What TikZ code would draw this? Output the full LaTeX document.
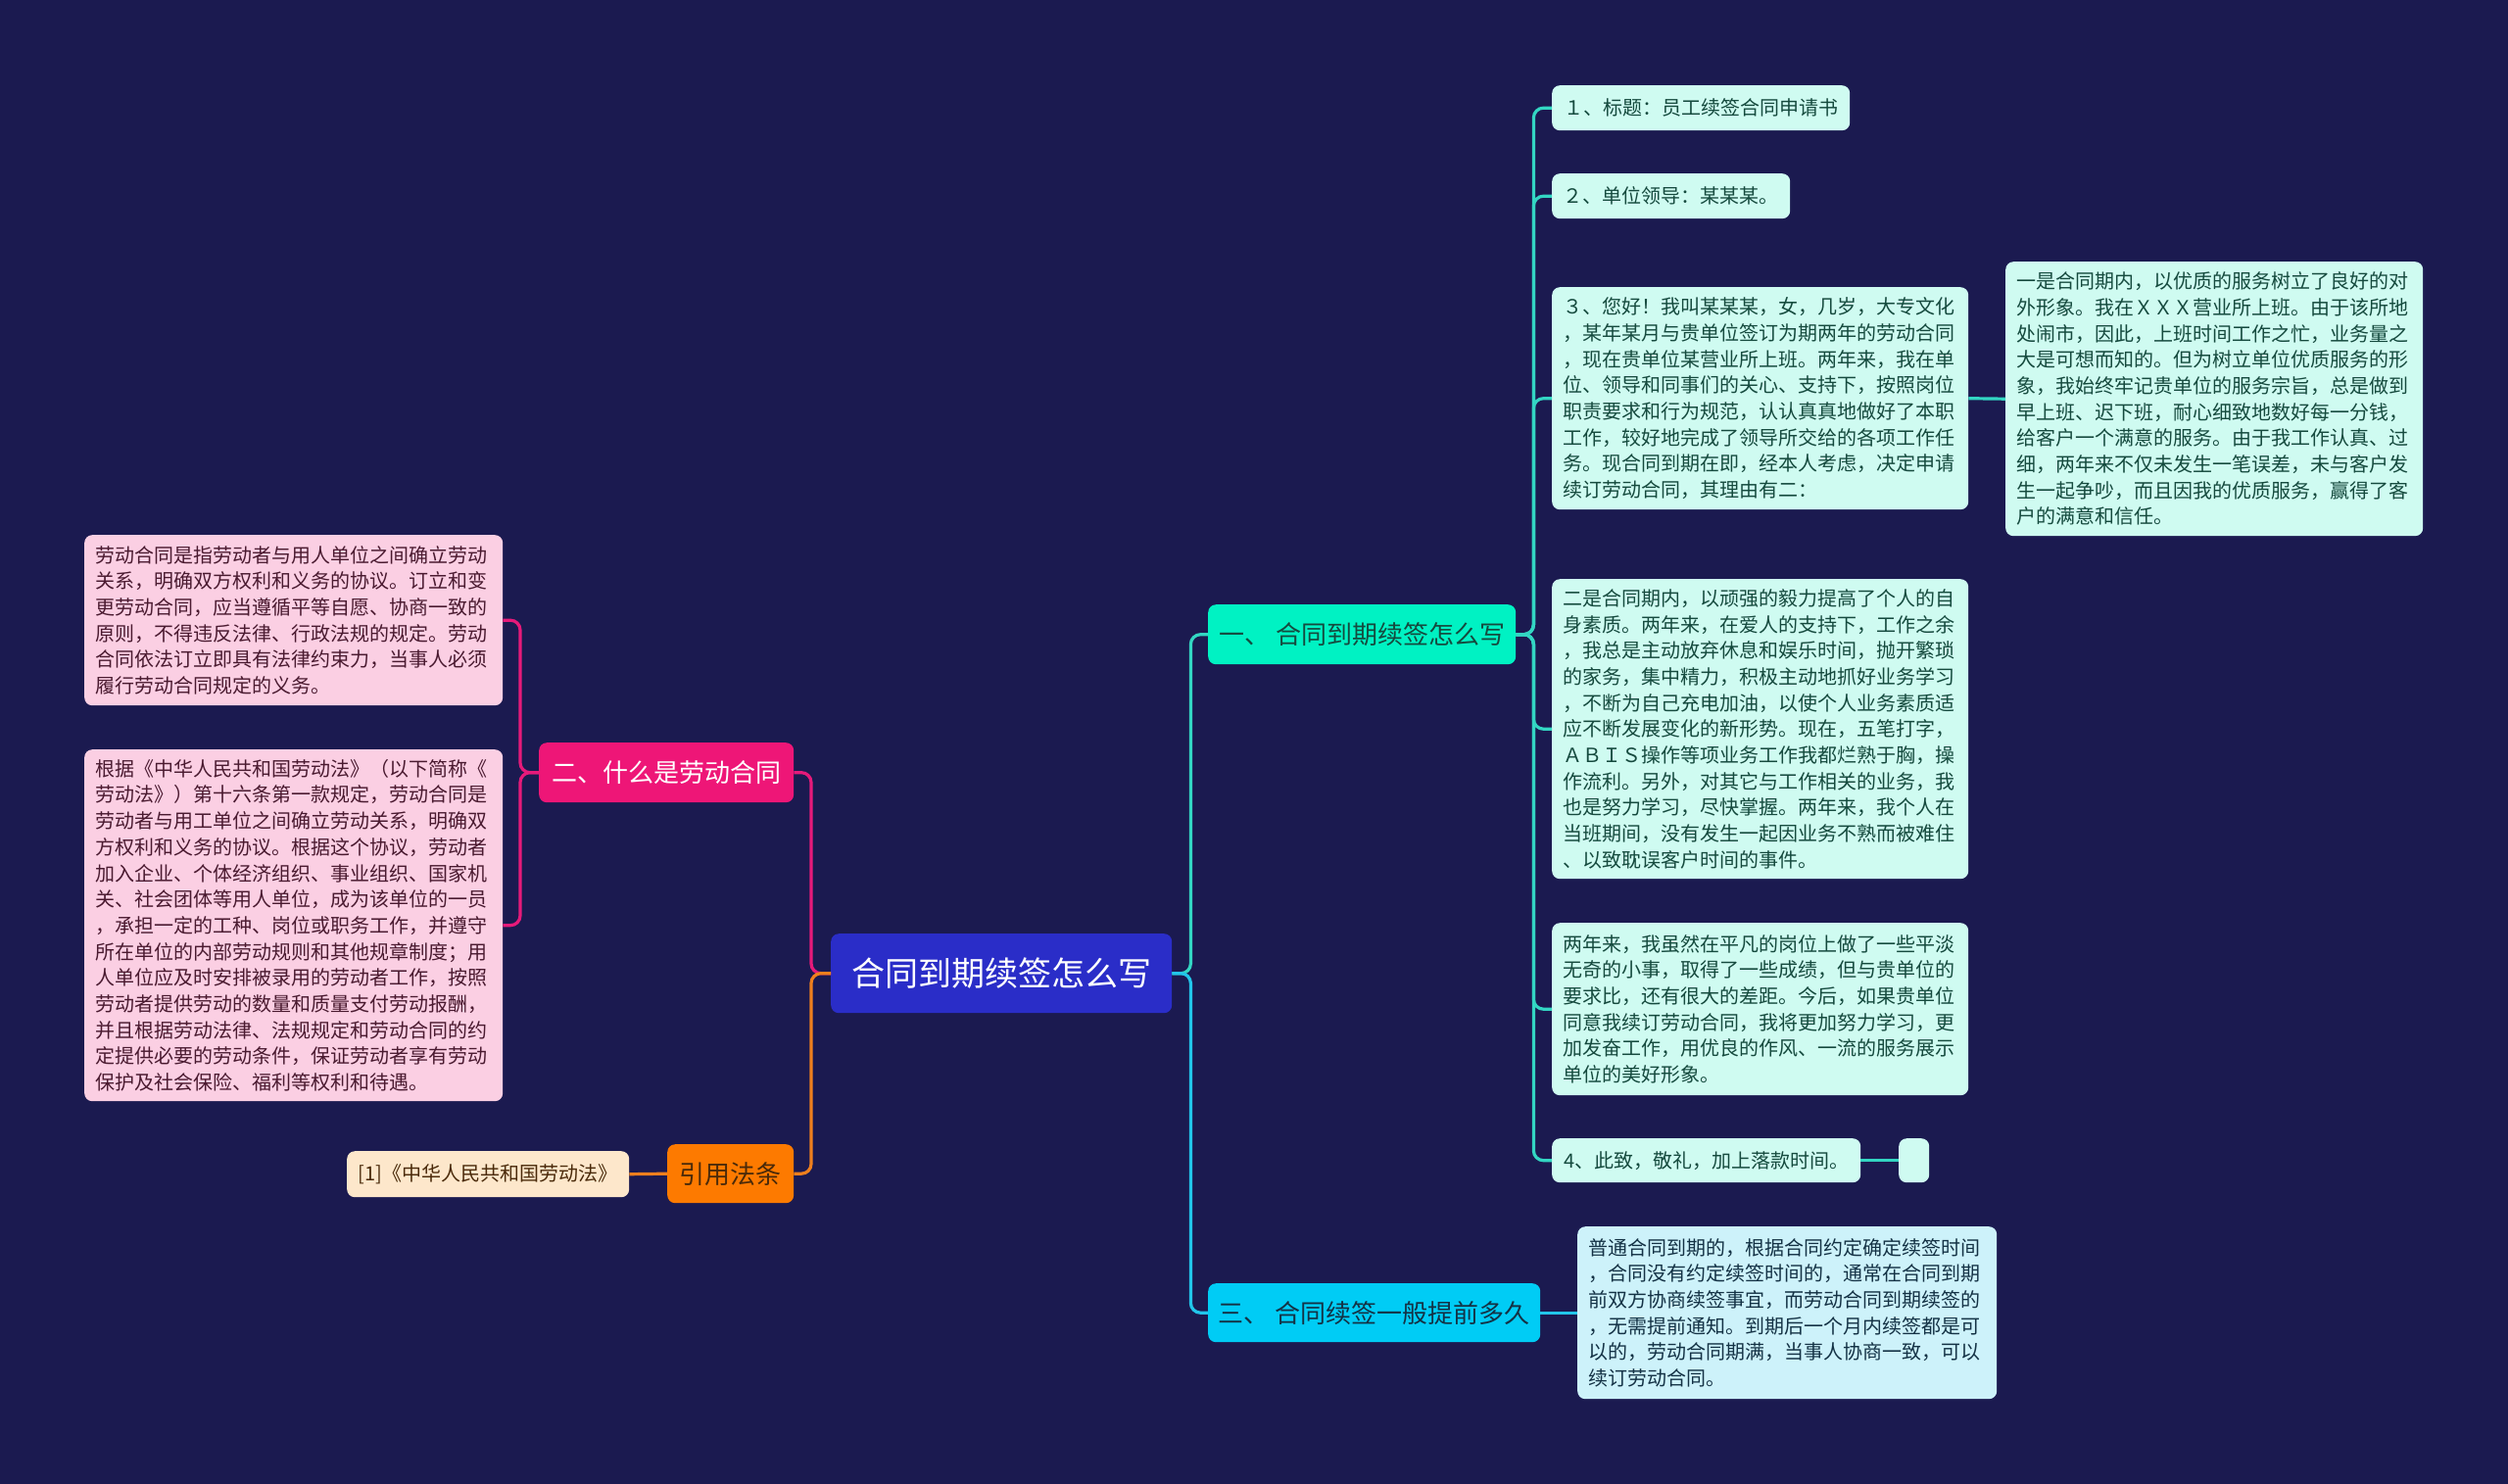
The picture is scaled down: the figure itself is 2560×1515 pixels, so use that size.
\documentclass[tikz,border=0pt]{standalone}
\usepackage{fontspec}
\newfontfamily\cjk{Noto Sans CJK SC}
\usetikzlibrary{calc}
\definecolor{bg}{HTML}{1B1A50}
\definecolor{cfill}{HTML}{2A2DC8}
\definecolor{tfill}{HTML}{00F2C3}
\definecolor{sfill}{HTML}{00CCF5}
\definecolor{tleaf}{HTML}{CFFBF1}
\definecolor{sleaf}{HTML}{CDF2FA}
\definecolor{pfill}{HTML}{EE1677}
\definecolor{pleaf}{HTML}{FBCFE3}
\definecolor{ofill}{HTML}{FD7A00}
\definecolor{oleaf}{HTML}{FDE7CB}
\definecolor{tline}{HTML}{33D6C3}
\definecolor{sline}{HTML}{22C5EA}
\definecolor{pline}{HTML}{E61A7A}
\definecolor{oline}{HTML}{EE7F1E}
\definecolor{ttxt}{HTML}{154A3E}
\definecolor{stxt}{HTML}{143245}
\definecolor{ptxt}{HTML}{4A1A30}
\definecolor{otxt}{HTML}{4A2A0A}
\tikzset{
  box/.style={rounded corners=8pt, inner sep=0pt, anchor=north west},
  smallfont/.style={font={\cjk\fontsize{20pt}{26.7pt}\selectfont}},
  headfont/.style={font={\cjk\fontsize{26pt}{30pt}\selectfont}},
  tleafbox/.style={box, smallfont, fill=tleaf, text=ttxt, align=left, inner xsep=11pt},
  sleafbox/.style={box, smallfont, fill=sleaf, text=stxt, align=left, inner xsep=11pt},
  pleafbox/.style={box, smallfont, fill=pleaf, text=ptxt, align=left, inner xsep=11pt},
  oleafbox/.style={box, smallfont, fill=oleaf, text=otxt},
  conn/.style={line width=3.2pt, rounded corners=10pt},
  tconn/.style={conn, draw=tline},
  sconn/.style={conn, draw=sline},
  pconn/.style={conn, draw=pline},
  oconn/.style={conn, draw=oline},
}
\begin{document}
\begin{tikzpicture}[x=1pt,y=-1pt]
\fill[bg] (0,0) rectangle (2560,1515);
\useasboundingbox (0,0) rectangle (2560,1515);

% central
\node[box, fill=cfill, text=white, font={\cjk\fontsize{34pt}{40pt}\selectfont}, minimum width=348pt, minimum height=81pt] (c) at (848,953) {合同到期续签怎么写};

% right headings
\node[box, headfont, fill=tfill, text=ttxt, minimum width=314pt, minimum height=61pt] (h1) at (1233,617) {一、 合同到期续签怎么写};
\node[box, headfont, fill=sfill, text=stxt, minimum width=339pt, minimum height=60pt] (h3) at (1233,1310) {三、 合同续签一般提前多久};

% left headings
\node[box, headfont, fill=pfill, text=white, minimum width=260pt, minimum height=61pt] (h2) at (550,758) {二、什么是劳动合同};
\node[box, headfont, fill=ofill, text=otxt, minimum width=129pt, minimum height=60pt] (hr) at (681,1168) {引用法条};

% branch one leaves
\node[box, smallfont, fill=tleaf, text=ttxt, minimum width=304pt, minimum height=46pt] (n1) at (1584,87) {１、标题：员工续签合同申请书};
\node[box, smallfont, fill=tleaf, text=ttxt, minimum width=243pt, minimum height=46pt] (n2) at (1584,177) {２、单位领导：某某某。};
\node[tleafbox, text width=403pt, minimum height=227pt] (n3) at (1584,293) {３、您好！我叫某某某，女，几岁，大专文化\\，某年某月与贵单位签订为期两年的劳动合同\\，现在贵单位某营业所上班。两年来，我在单\\位、领导和同事们的关心、支持下，按照岗位\\职责要求和行为规范，认认真真地做好了本职\\工作，较好地完成了领导所交给的各项工作任\\务。现合同到期在即，经本人考虑，决定申请\\续订劳动合同，其理由有二：};
\node[tleafbox, text width=404pt, minimum height=280pt] (m1) at (2047,267) {一是合同期内，以优质的服务树立了良好的对\\外形象。我在ＸＸＸ营业所上班。由于该所地\\处闹市，因此，上班时间工作之忙，业务量之\\大是可想而知的。但为树立单位优质服务的形\\象，我始终牢记贵单位的服务宗旨，总是做到\\早上班、迟下班，耐心细致地数好每一分钱，\\给客户一个满意的服务。由于我工作认真、过\\细，两年来不仅未发生一笔误差，未与客户发\\生一起争吵，而且因我的优质服务，赢得了客\\户的满意和信任。};
\node[tleafbox, text width=403pt, minimum height=306pt] (n5) at (1584,591) {二是合同期内，以顽强的毅力提高了个人的自\\身素质。两年来，在爱人的支持下，工作之余\\，我总是主动放弃休息和娱乐时间，抛开繁琐\\的家务，集中精力，积极主动地抓好业务学习\\，不断为自己充电加油，以使个人业务素质适\\应不断发展变化的新形势。现在，五笔打字，\\ＡＢＩＳ操作等项业务工作我都烂熟于胸，操\\作流利。另外，对其它与工作相关的业务，我\\也是努力学习，尽快掌握。两年来，我个人在\\当班期间，没有发生一起因业务不熟而被难住\\、以致耽误客户时间的事件。};
\node[tleafbox, text width=403pt, minimum height=176pt] (n6) at (1584,942) {两年来，我虽然在平凡的岗位上做了一些平淡\\无奇的小事，取得了一些成绩，但与贵单位的\\要求比，还有很大的差距。今后，如果贵单位\\同意我续订劳动合同，我将更加努力学习，更\\加发奋工作，用优良的作风、一流的服务展示\\单位的美好形象。};
\node[box, smallfont, fill=tleaf, text=ttxt, minimum width=315pt, minimum height=45pt] (n4) at (1584,1162) {4、此致，敬礼，加上落款时间。};
\node[box, fill=tleaf, minimum width=31pt, minimum height=45pt] (e1) at (1938,1162) {};

% branch three leaf
\node[sleafbox, text width=406pt, minimum height=176pt] (l3) at (1610,1252) {普通合同到期的，根据合同约定确定续签时间\\，合同没有约定续签时间的，通常在合同到期\\前双方协商续签事宜，而劳动合同到期续签的\\，无需提前通知。到期后一个月内续签都是可\\以的，劳动合同期满，当事人协商一致，可以\\续订劳动合同。};

% branch two leaves
\node[pleafbox, text width=405pt, minimum height=174pt] (p1) at (86,546) {劳动合同是指劳动者与用人单位之间确立劳动\\关系，明确双方权利和义务的协议。订立和变\\更劳动合同，应当遵循平等自愿、协商一致的\\原则，不得违反法律、行政法规的规定。劳动\\合同依法订立即具有法律约束力，当事人必须\\履行劳动合同规定的义务。};
\node[pleafbox, text width=405pt, minimum height=359pt] (p2) at (86,765) {根据《中华人民共和国劳动法》（以下简称《\\劳动法》）第十六条第一款规定，劳动合同是\\劳动者与用工单位之间确立劳动关系，明确双\\方权利和义务的协议。根据这个协议，劳动者\\加入企业、个体经济组织、事业组织、国家机\\关、社会团体等用人单位，成为该单位的一员\\，承担一定的工种、岗位或职务工作，并遵守\\所在单位的内部劳动规则和其他规章制度；用\\人单位应及时安排被录用的劳动者工作，按照\\劳动者提供劳动的数量和质量支付劳动报酬，\\并且根据劳动法律、法规规定和劳动合同的约\\定提供必要的劳动条件，保证劳动者享有劳动\\保护及社会保险、福利等权利和待遇。};

% reference leaf
\node[oleafbox, minimum width=288pt, minimum height=47pt] (r1) at (354,1175) {[1]《中华人民共和国劳动法》};

% connectors
\draw[tconn] (c.east) -- ++(19,0) |- (h1.west);
\draw[sconn] (c.east) -- ++(19,0) |- (h3.west);
\foreach \n in {n1,n2,n3,n5,n6,n4}{
  \draw[tconn] (h1.east) -- ++(18,0) |- (\n.west);
}
\draw[tconn] (n3.east) -- (m1.west);
\draw[tconn] (n4.east) -- (e1.west);
\draw[sconn] (h3.east) -- (l3.west);
\draw[pconn] (c.west) -- ++(-20,0) |- (h2.east);
\draw[oconn] (c.west) -- ++(-20,0) |- (hr.east);
\draw[pconn] (h2.west) -- ++(-19,0) |- (p1.east);
\draw[pconn] (h2.west) -- ++(-19,0) |- (p2.east);
\draw[oconn] (hr.west) -- (r1.east);
\end{tikzpicture}
\end{document}
